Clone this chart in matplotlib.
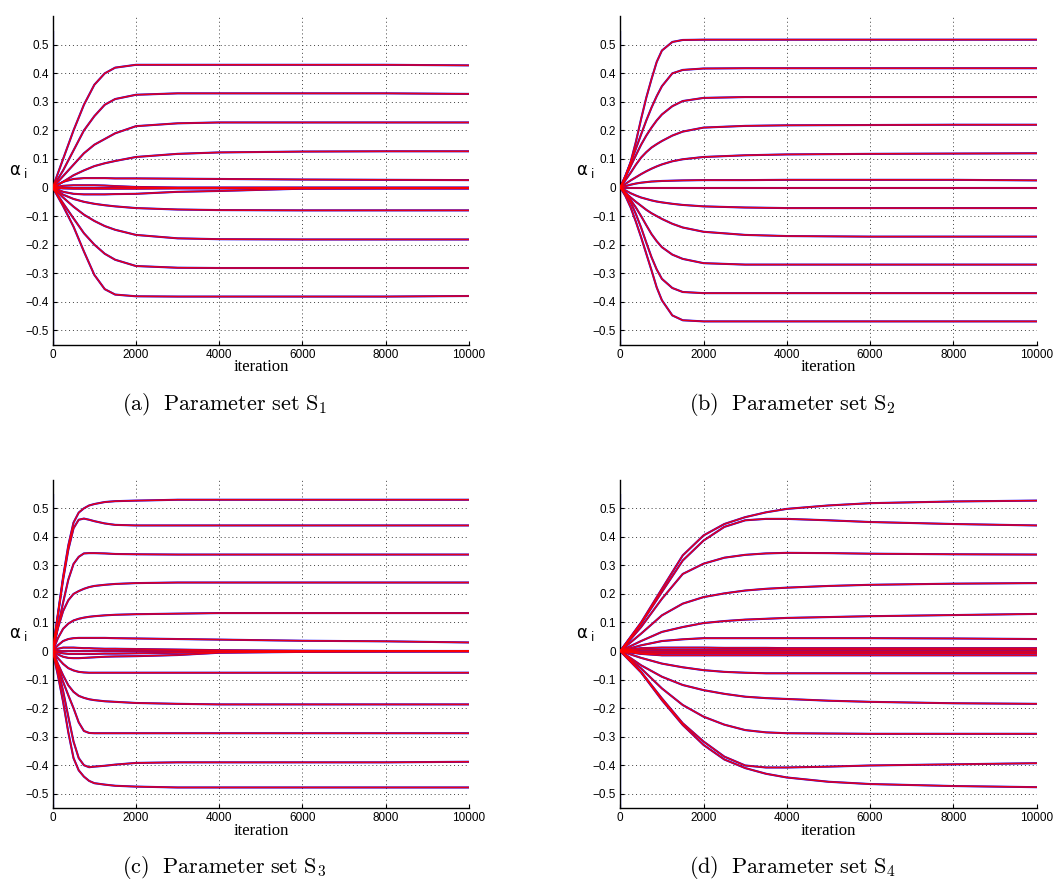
import numpy as np
import matplotlib
matplotlib.use("Agg")
import matplotlib.pyplot as plt
from matplotlib.ticker import FuncFormatter

# sample iterations
iters_a = [0, 250, 500, 750, 1000, 1250, 1500, 2000, 3000, 4000, 6000, 8000, 10000]
iters_bc = [0, 125, 250, 375, 500, 625, 750, 875, 1000, 1250, 1500, 2000, 3000, 4000, 6000, 8000, 10000]
iters_d = [0, 500, 1000, 1500, 2000, 2500, 3000, 3500, 4000, 5000, 6000, 8000, 10000]

# initial spread of the simulated alphas at iteration 0
init_spread = [-0.55, 0.55]

alpha_S1 = [
    [0, 0.10, 0.20, 0.29, 0.36, 0.40, 0.42, 0.43, 0.43, 0.43, 0.43, 0.43, 0.428],
    [0, 0.06, 0.13, 0.20, 0.25, 0.29, 0.31, 0.325, 0.33, 0.33, 0.33, 0.33, 0.328],
    [0, 0.04, 0.08, 0.12, 0.15, 0.17, 0.19, 0.215, 0.225, 0.228, 0.228, 0.228, 0.228],
    [0, 0.02, 0.043, 0.06, 0.075, 0.085, 0.093, 0.107, 0.118, 0.123, 0.126, 0.127, 0.127],
    [0, 0.02, 0.03, 0.033, 0.033, 0.033, 0.032, 0.032, 0.031, 0.030, 0.028, 0.027, 0.026],
    [0, 0.006, 0.008, 0.008, 0.008, 0.007, 0.005, 0.002, 0, 0, 0, 0, 0],
    [0, 0, 0, 0, 0, 0, 0, 0, 0, 0, 0, 0, 0],
    [0, -0.003, -0.004, -0.004, -0.004, -0.004, -0.004, -0.004, -0.003, -0.003, -0.003, -0.003, -0.003],
    [0, -0.015, -0.022, -0.024, -0.024, -0.024, -0.023, -0.022, -0.015, -0.012, -0.004, -0.003, -0.003],
    [0, -0.025, -0.04, -0.05, -0.057, -0.062, -0.066, -0.072, -0.077, -0.079, -0.080, -0.080, -0.080],
    [0, -0.035, -0.067, -0.095, -0.117, -0.135, -0.148, -0.166, -0.178, -0.181, -0.182, -0.182, -0.182],
    [0, -0.055, -0.108, -0.16, -0.20, -0.232, -0.253, -0.275, -0.281, -0.282, -0.282, -0.282, -0.282],
    [0, -0.065, -0.137, -0.224, -0.306, -0.356, -0.375, -0.381, -0.382, -0.382, -0.382, -0.382, -0.38],
]

alpha_S2 = [
    [0, 0.04, 0.09, 0.16, 0.24, 0.315, 0.38, 0.44, 0.48, 0.51, 0.517, 0.518, 0.518, 0.518, 0.518, 0.518, 0.518],
    [0, 0.042, 0.087, 0.136, 0.186, 0.235, 0.28, 0.32, 0.355, 0.40, 0.412, 0.417, 0.418, 0.418, 0.418, 0.418, 0.418],
    [0, 0.037, 0.075, 0.113, 0.15, 0.182, 0.21, 0.235, 0.256, 0.285, 0.303, 0.314, 0.317, 0.317, 0.317, 0.317, 0.317],
    [0, 0.026, 0.052, 0.08, 0.105, 0.124, 0.14, 0.152, 0.163, 0.182, 0.196, 0.21, 0.216, 0.218, 0.219, 0.22, 0.22],
    [0, 0.013, 0.025, 0.036, 0.047, 0.057, 0.066, 0.074, 0.081, 0.092, 0.099, 0.107, 0.113, 0.116, 0.118, 0.119, 0.12],
    [0, 0.005, 0.01, 0.014, 0.017, 0.019, 0.021, 0.022, 0.023, 0.024, 0.025, 0.026, 0.026, 0.027, 0.027, 0.027, 0.025],
    [0, 0, 0, 0, 0, 0, 0, 0, 0, 0, 0, 0, 0, 0, 0, 0, 0],
    [0, -0.01, -0.02, -0.028, -0.035, -0.04, -0.045, -0.049, -0.052, -0.057, -0.061, -0.066, -0.07, -0.072, -0.072, -0.072, -0.072],
    [0, -0.018, -0.035, -0.05, -0.064, -0.078, -0.09, -0.1, -0.11, -0.127, -0.14, -0.155, -0.166, -0.17, -0.172, -0.172, -0.172],
    [0, -0.02, -0.044, -0.07, -0.1, -0.132, -0.163, -0.188, -0.209, -0.235, -0.25, -0.265, -0.27, -0.27, -0.27, -0.27, -0.27],
    [0, -0.022, -0.052, -0.093, -0.14, -0.193, -0.244, -0.287, -0.32, -0.352, -0.366, -0.37, -0.37, -0.37, -0.37, -0.37, -0.37],
    [0, -0.03, -0.07, -0.12, -0.174, -0.232, -0.29, -0.35, -0.395, -0.448, -0.465, -0.469, -0.469, -0.469, -0.469, -0.469, -0.469],
]

alpha_S3 = [
    [0, 0.13, 0.26, 0.37, 0.45, 0.485, 0.50, 0.51, 0.515, 0.522, 0.525, 0.527, 0.53, 0.53, 0.53, 0.53, 0.53],
    [0, 0.125, 0.25, 0.355, 0.43, 0.46, 0.464, 0.46, 0.455, 0.447, 0.442, 0.44, 0.44, 0.44, 0.44, 0.44, 0.44],
    [0, 0.085, 0.17, 0.25, 0.305, 0.33, 0.342, 0.343, 0.343, 0.342, 0.34, 0.339, 0.338, 0.338, 0.338, 0.338, 0.338],
    [0, 0.08, 0.14, 0.178, 0.2, 0.21, 0.218, 0.224, 0.228, 0.232, 0.235, 0.238, 0.24, 0.24, 0.24, 0.24, 0.24],
    [0, 0.045, 0.078, 0.096, 0.107, 0.113, 0.117, 0.12, 0.122, 0.125, 0.127, 0.129, 0.131, 0.133, 0.133, 0.133, 0.133],
    [0, 0.02, 0.035, 0.042, 0.045, 0.046, 0.046, 0.046, 0.046, 0.046, 0.045, 0.044, 0.042, 0.04, 0.036, 0.034, 0.03],
    [0, 0.008, 0.012, 0.012, 0.012, 0.011, 0.01, 0.01, 0.009, 0.008, 0.008, 0.007, 0.005, 0.003, 0.001, 0, 0],
    [0, 0, 0, 0, 0, 0, 0, 0, 0, 0, 0, 0, 0, 0, 0, 0, 0],
    [0, -0.005, -0.008, -0.01, -0.01, -0.01, -0.01, -0.01, -0.01, -0.009, -0.009, -0.008, -0.006, -0.004, -0.002, -0.001, 0],
    [0, -0.012, -0.02, -0.024, -0.025, -0.025, -0.024, -0.023, -0.022, -0.02, -0.019, -0.018, -0.014, -0.006, -0.003, -0.002, -0.002],
    [0, -0.025, -0.045, -0.06, -0.068, -0.073, -0.075, -0.076, -0.076, -0.076, -0.076, -0.076, -0.076, -0.076, -0.076, -0.076, -0.076],
    [0, -0.045, -0.085, -0.12, -0.143, -0.157, -0.164, -0.169, -0.172, -0.176, -0.178, -0.182, -0.185, -0.187, -0.187, -0.187, -0.187],
    [0, -0.054, -0.108, -0.155, -0.2, -0.25, -0.28, -0.287, -0.288, -0.288, -0.288, -0.288, -0.288, -0.288, -0.288, -0.288, -0.288],
    [0, -0.065, -0.14, -0.23, -0.317, -0.375, -0.40, -0.407, -0.405, -0.402, -0.398, -0.392, -0.39, -0.39, -0.39, -0.39, -0.388],
    [0, -0.085, -0.178, -0.285, -0.375, -0.418, -0.44, -0.455, -0.463, -0.468, -0.472, -0.475, -0.478, -0.478, -0.478, -0.478, -0.478],
]

alpha_S4 = [
    [0, 0.10, 0.218, 0.335, 0.405, 0.445, 0.469, 0.486, 0.498, 0.51, 0.518, 0.524, 0.527],
    [0, 0.096, 0.207, 0.317, 0.387, 0.435, 0.458, 0.463, 0.463, 0.458, 0.452, 0.445, 0.44],
    [0, 0.084, 0.183, 0.27, 0.306, 0.327, 0.337, 0.342, 0.344, 0.343, 0.341, 0.339, 0.338],
    [0, 0.061, 0.125, 0.166, 0.189, 0.202, 0.212, 0.218, 0.222, 0.228, 0.232, 0.236, 0.238],
    [0, 0.035, 0.067, 0.084, 0.098, 0.105, 0.11, 0.113, 0.116, 0.119, 0.122, 0.126, 0.13],
    [0, 0.02, 0.035, 0.041, 0.045, 0.045, 0.045, 0.045, 0.045, 0.045, 0.045, 0.044, 0.042],
    [0, 0.01, 0.012, 0.012, 0.012, 0.011, 0.011, 0.011, 0.01, 0.01, 0.01, 0.01, 0.01],
    [0, 0.004, 0.004, 0.004, 0.004, 0.004, 0.004, 0.004, 0.004, 0.004, 0.004, 0.004, 0.004],
    [0, -0.003, -0.003, -0.003, -0.003, -0.003, -0.003, -0.003, -0.003, -0.003, -0.003, -0.003, -0.003],
    [0, -0.008, -0.008, -0.008, -0.008, -0.008, -0.008, -0.008, -0.008, -0.008, -0.008, -0.008, -0.008],
    [0, -0.01, -0.015, -0.015, -0.015, -0.015, -0.015, -0.015, -0.015, -0.015, -0.015, -0.015, -0.015],
    [0, -0.024, -0.044, -0.057, -0.067, -0.073, -0.076, -0.078, -0.078, -0.078, -0.078, -0.078, -0.078],
    [0, -0.05, -0.09, -0.119, -0.137, -0.15, -0.16, -0.165, -0.168, -0.174, -0.178, -0.183, -0.185],
    [0, -0.061, -0.131, -0.189, -0.23, -0.258, -0.277, -0.285, -0.288, -0.289, -0.29, -0.29, -0.29],
    [0, -0.073, -0.166, -0.253, -0.317, -0.37, -0.401, -0.408, -0.408, -0.405, -0.401, -0.397, -0.393],
    [0, -0.075, -0.172, -0.259, -0.329, -0.38, -0.41, -0.43, -0.443, -0.458, -0.466, -0.473, -0.477],
]

captions = [r'$\mathrm{(a)\ \ Parameter\ set\ S_1}$',
            r'$\mathrm{(b)\ \ Parameter\ set\ S_2}$',
            r'$\mathrm{(c)\ \ Parameter\ set\ S_3}$',
            r'$\mathrm{(d)\ \ Parameter\ set\ S_4}$']

panels = [(iters_a, alpha_S1), (iters_bc, alpha_S2),
          (iters_bc, alpha_S3), (iters_d, alpha_S4)]

fig = plt.figure(figsize=(10.54, 8.8), dpi=100)

# axes boxes in figure fraction
lefts = [0.050, 0.5885, 0.050, 0.5885]
bottoms = [0.6085, 0.6085, 0.0818, 0.0818]
w, h = 0.395, 0.373

yt = np.round(np.arange(-0.5, 0.51, 0.1), 1)
fmt = FuncFormatter(lambda v, p: ('%g' % (v + 0.0)).replace('-', '\u2212'))

for k, (it, curves) in enumerate(panels):
    ax = fig.add_axes([lefts[k], bottoms[k], w, h])
    ax.vlines(0, init_spread[0], init_spread[1], color='blue', lw=1.6, zorder=2)
    for c in curves:
        ax.plot(it, c, color='blue', lw=1.5, zorder=2)
    for c in curves:
        ax.plot(it, c, color='red', lw=1.15, alpha=0.9, zorder=3)

    ax.set_xlim(0, 10000)
    ax.set_ylim(-0.55, 0.6)
    ax.set_xticks(range(0, 10001, 2000))
    ax.set_yticks(yt)
    ax.yaxis.set_major_formatter(fmt)
    ax.grid(True, color='#404040', linestyle=(0, (1, 3)), linewidth=0.7)
    ax.set_axisbelow(True)
    for s in ['top', 'right']:
        ax.spines[s].set_visible(False)
    for s in ['left', 'bottom']:
        ax.spines[s].set_linewidth(1.0)
    ax.tick_params(direction='in', length=3, width=0.8, pad=3,
                   labelsize=8.5, labelfontfamily='Liberation Sans')
    ax.set_xlabel('iteration', family='Liberation Serif', fontsize=12, labelpad=-1)
    ax.set_ylabel(r'$\mathregular{\alpha_{\ i}}$', rotation=0, fontsize=12,
                  ha='center', va='center')
    ax.yaxis.set_label_coords(-0.083, 0.53)

    fig.text(lefts[k] + 0.163, bottoms[k] - 0.068, captions[k], fontsize=16,
             math_fontfamily='cm', ha='center', va='center')

fig.savefig('out.png', dpi=100)
